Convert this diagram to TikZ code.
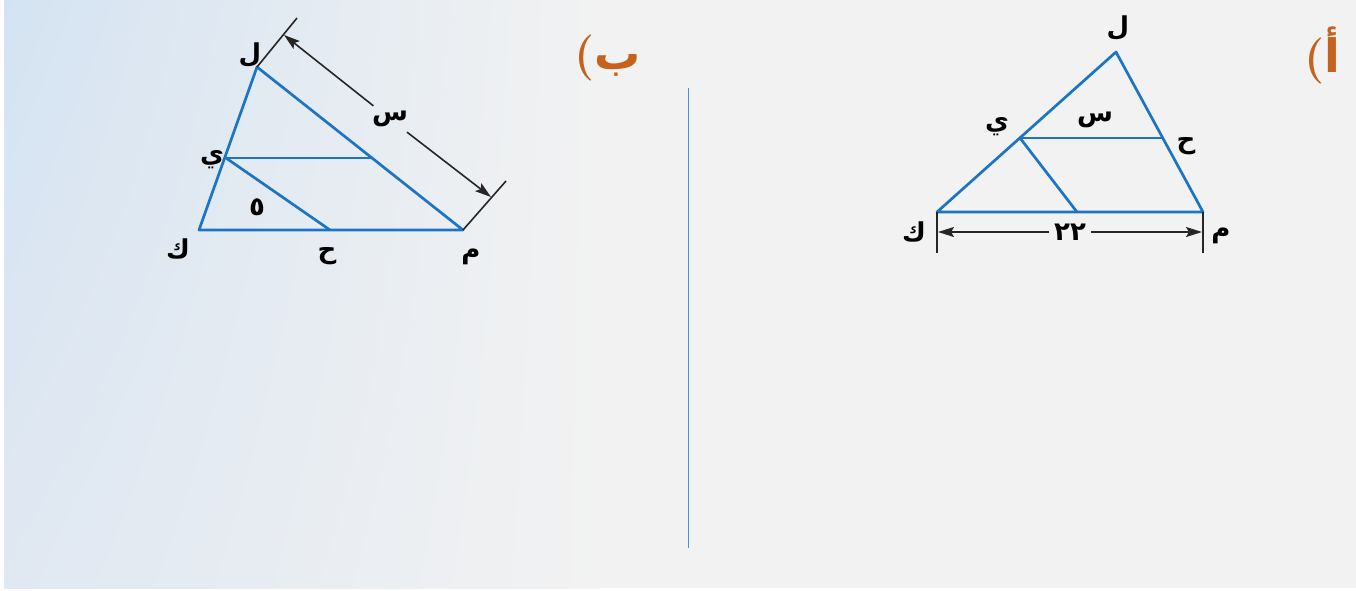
\documentclass[tikz,border=0pt]{standalone}
\usepackage{fontspec}
\usepackage{tikz}
\usetikzlibrary{arrows.meta, positioning, calc, shadings}
\TeXXeTstate=1
\newfontfamily\arabicfont[Script=Arabic]{DejaVu Sans}
\definecolor{GeoBlue}{RGB}{28, 117, 196}
\definecolor{PartOrange}{RGB}{196, 98, 30}
\definecolor{PageGrey}{RGB}{242, 242, 242}
\definecolor{PageBlue}{RGB}{212, 227, 242}
\definecolor{PageBlueLow}{RGB}{224, 232, 242}
\tikzset{
    side/.style={draw=GeoBlue, line width=2.7pt, line join=round},
    extline/.style={draw=black!85, line width=1.6pt},
    dimarrow/.style={draw=black!85, line width=1.6pt, -{Stealth[length=16pt, width=10pt, inset=3pt]}},
    vlabel/.style={font=\fontsize{26}{28}\selectfont\arabicfont\bfseries, inner sep=1pt},
    dimlabel/.style={font=\fontsize{26}{28}\selectfont\arabicfont\bfseries, inner sep=5pt},
    partlabel/.style={font=\fontsize{46}{50}\selectfont\bfseries, text=PartOrange, inner sep=0pt}
}

\begin{document}
\begin{tikzpicture}[x=1pt, y=-1pt]
    \useasboundingbox (0,0) rectangle (1356,590);
    % page background
    \fill[white] (0,0) rectangle (1356,590);
    \shade[upper left=PageBlue, lower left=PageBlueLow, upper right=PageGrey, lower right=PageGrey] (4,0) rectangle (600,588);
    \fill[PageGrey] (600,0) rectangle (1356,588);
    \draw[GeoBlue!80, line width=1pt] (688,88) -- (688,548);

    % part b (left)
    \node[partlabel] (partB) at (608,58) {({\arabicfont\beginR ب\endR}};
    \coordinate (bL) at (257,67);
    \coordinate (bY) at (226,158);
    \coordinate (bK) at (199,230);
    \coordinate (bM) at (463,230);
    \coordinate (bH) at (330,230);
    \coordinate (bP) at (372,158);
    \draw[side] (bK) -- (bL) -- (bM) -- cycle;
    \draw[side] (bY) -- (bP);
    \draw[side] (bY) -- (bH);
    \coordinate (bExtL) at (297,18);
    \coordinate (bExtM) at (506,181);
    \coordinate (bTipL) at (284,35);
    \coordinate (bTipM) at (491,197);
    \draw[extline] (bL) -- (bExtL);
    \draw[extline] (bM) -- (bExtM);
    \node[dimlabel] (bLen) at (390,119) {\beginR س\endR};
    \draw[dimarrow] (bLen) -- (bTipL);
    \draw[dimarrow] (bLen) -- (bTipM);
    \node[vlabel] (bLblL) at (250,55) {\beginR ل\endR};
    \node[vlabel] (bLblY) at (212,160) {\beginR ي\endR};
    \node[vlabel] (bLblK) at (178,249) {\beginR ك\endR};
    \node[vlabel] (bLblH) at (327,256) {\beginR ح\endR};
    \node[vlabel] (bLblM) at (471,257) {\beginR م\endR};
    \node[vlabel] (bLblFive) at (257,207) {\beginR ٥\endR};

    % part a (right)
    \node[partlabel] (partA) at (1322,55) {({\arabicfont\beginR أ\endR}};
    \coordinate (aL) at (1116,52);
    \coordinate (aK) at (937,212);
    \coordinate (aM) at (1203,212);
    \coordinate (aY) at (1020,138);
    \coordinate (aH) at (1163,138);
    \coordinate (aB) at (1077,212);
    \draw[side] (aK) -- (aL) -- (aM) -- cycle;
    \draw[side] (aY) -- (aH);
    \draw[side] (aY) -- (aB);
    \coordinate (aExtK) at (937,253);
    \coordinate (aExtM) at (1203,253);
    \coordinate (aTipK) at (938,232);
    \coordinate (aTipM) at (1202,232);
    \draw[extline] (aK) -- (aExtK);
    \draw[extline] (aM) -- (aExtM);
    \node[dimlabel] (aLen) at (1070,232) {\beginR ٢٢\endR};
    \draw[dimarrow] (aLen) -- (aTipK);
    \draw[dimarrow] (aLen) -- (aTipM);
    \node[vlabel] (aLblL) at (1118,28) {\beginR ل\endR};
    \node[vlabel] (aLblY) at (997,127) {\beginR ي\endR};
    \node[vlabel] (aLblX) at (1095,120) {\beginR س\endR};
    \node[vlabel] (aLblH) at (1186,146) {\beginR ح\endR};
    \node[vlabel] (aLblK) at (914,232) {\beginR ك\endR};
    \node[vlabel] (aLblM) at (1221,236) {\beginR م\endR};
\end{tikzpicture}
\end{document}
